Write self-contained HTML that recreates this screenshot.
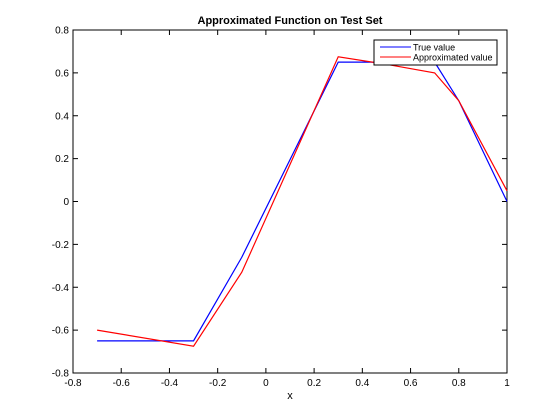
<!DOCTYPE html>
<html><head><meta charset="utf-8"><style>
body{margin:0;background:#fff;}
svg{display:block;font-family:"Liberation Sans",Arial,sans-serif;}
</style></head><body>
<svg id="chart" width="560" height="420" viewBox="0 0 560 420"></svg>
<script>
const xTicks=[-0.8,-0.6,-0.4,-0.2,0,0.2,0.4,0.6,0.8,1];
const yTicks=[-0.8,-0.6,-0.4,-0.2,0,0.2,0.4,0.6,0.8];
const xVals=[-0.7,-0.3,-0.1,0.3,0.5,0.7,0.8,1];
const trueVals=[-0.65,-0.65,-0.26,0.65,0.65,0.65,0.47,0];
const approxVals=[-0.6,-0.675,-0.33,0.675,0.64,0.60,0.47,0.05];
const L=73,R=507,T=30,B=373;
const sx=v=>L+(v+0.8)/1.8*(R-L);
const sy=v=>B-(v+0.8)/1.6*(B-T);
const NS="http://www.w3.org/2000/svg";
const svg=document.getElementById('chart');
function mk(t,a,p){const e=document.createElementNS(NS,t);for(const k in a)e.setAttribute(k,a[k]);(p||svg).appendChild(e);return e;}
const frame=mk('rect',{x:L,y:T,width:R-L,height:B-T,fill:'#fff',stroke:'#000','stroke-width':1});


xTicks.forEach(v=>{const x=sx(v);
mk('line',{x1:x,x2:x,y1:B,y2:B-5,stroke:'#000'});mk('line',{x1:x,x2:x,y1:T,y2:T+5,stroke:'#000'});
const t=mk('text',{x:x,y:B+13,'font-size':10,'text-anchor':'middle'});t.textContent=String(v);

});
yTicks.forEach(v=>{const y=sy(v);
mk('line',{x1:L,x2:L+5,y1:y,y2:y,stroke:'#000'});mk('line',{x1:R,x2:R-5,y1:y,y2:y,stroke:'#000'});
const t=mk('text',{x:L-4,y:y+3.5,'font-size':10,'text-anchor':'end'});t.textContent=String(v);

});
function line(vals,c,name){const p=mk('polyline',{points:vals.map((v,i)=>sx(xVals[i])+','+sy(v)).join(' '),fill:'none',stroke:c,'stroke-width':1.2});

}
line(trueVals,'#0000ff','true-value-line');
line(approxVals,'#ff0000','approximated-value-line');
const title=mk('text',{x:290,y:24,'font-size':11,'font-weight':'bold','text-anchor':'middle'});title.textContent='Approximated Function on Test Set';


const xl=mk('text',{x:290,y:399,'font-size':11,'text-anchor':'middle'});xl.textContent='x';


const lg=mk('g',{});


mk('rect',{x:374,y:40,width:123,height:25,fill:'#fff',stroke:'#000'},lg);
mk('line',{x1:380,x2:411,y1:47,y2:47,stroke:'#0000ff'},lg);
mk('line',{x1:380,x2:411,y1:57,y2:57,stroke:'#ff0000'},lg);
const l1=mk('text',{x:413,y:50.5,'font-size':9},lg);l1.textContent='True value';


const l2=mk('text',{x:413,y:60.5,'font-size':9},lg);l2.textContent='Approximated value';


</script>
</body></html>
